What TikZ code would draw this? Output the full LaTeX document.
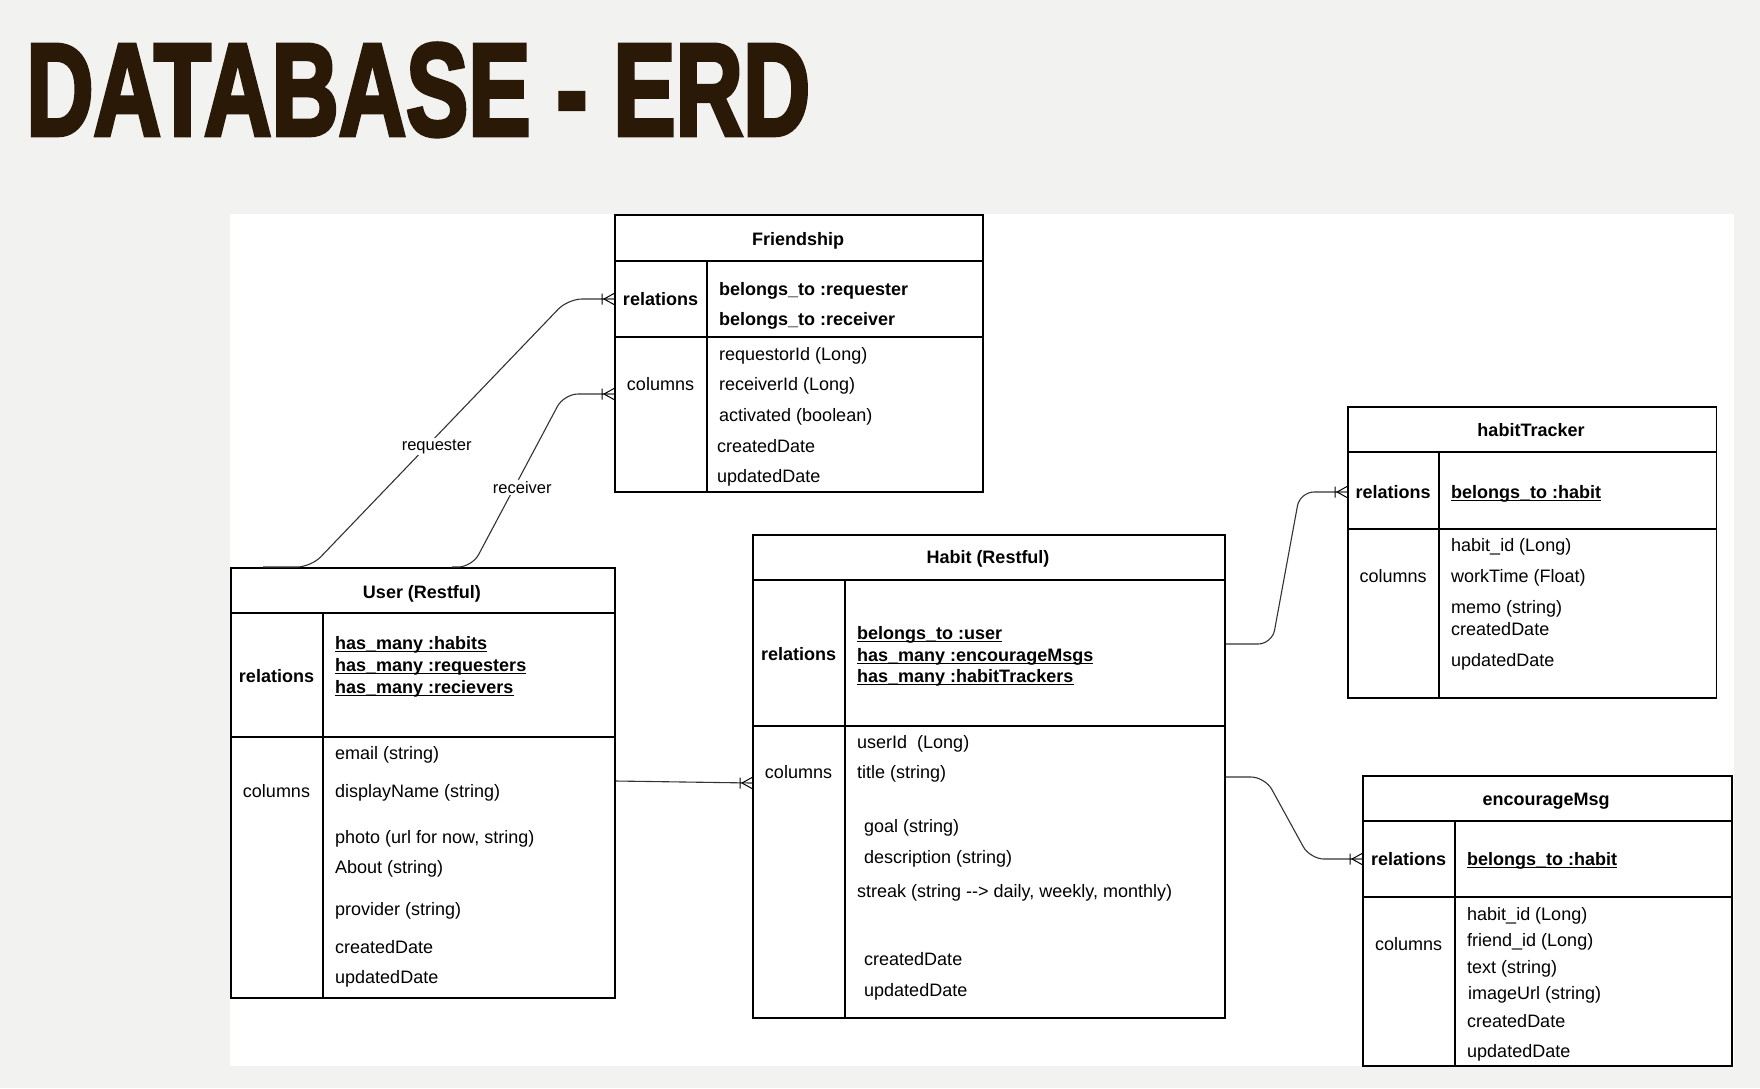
\documentclass[tikz,border=0pt]{standalone}
\usepackage{fontspec}
\setmainfont{Liberation Sans}
\newfontfamily\titlefont{Liberation Sans Bold}[FakeBold=3.5]
\definecolor{titlebrown}{HTML}{2A1906}
\definecolor{pagegrey}{HTML}{F2F2F0}
\definecolor{linkgrey}{HTML}{333333}
\newcommand\cellfont{\fontsize{18}{22}\selectfont}
\tikzset{
  tbl/.style={draw, line width=1.5pt, anchor=north west, inner sep=0pt},
  grid/.style={line width=1.5pt},
  cell/.style={anchor=west, inner sep=0pt, text height=13pt, text depth=4pt, yshift=-1.5pt, font=\cellfont},
  bold/.style={cell, font=\cellfont\bfseries},
  key/.style={cell, anchor=center},
  hd/.style={key, font=\cellfont\bfseries},
  link/.style={draw=linkgrey, line width=1.1pt, rounded corners=14pt},
  lbl/.style={fill=white, inner sep=1.5pt, font=\fontsize{16.5}{20}\selectfont},
  crow/.pic={\draw[line width=1pt] (-12,-5.5) -- (-12,5.5) (0,-5.5) -- (-10,0) -- (0,5.5);}
}
\begin{document}
\begin{tikzpicture}[x=1pt, y=-1pt]
  \useasboundingbox (0,0) rectangle (1760,1088);
  \fill[pagegrey] (0,0) rectangle (1760,1088);
  \fill[white] (230,214) rectangle (1734,1066);
  \node[anchor=base west, inner sep=0pt, text=titlebrown] (title) at (26,135) {\scalebox{0.712}[1]{\titlefont\fontsize{131}{131}\selectfont DATABASE - ERD}};

  \node[tbl, minimum width=368pt, minimum height=277pt] (fr) at (614,214) {};
  \draw[grid] (614,261) -- (982,261) (614,337) -- (982,337) (707,261) -- (707,491);
  \node[hd] (frHead) at (798,239) {Friendship};
  \node[hd] (frRel) at (660.5,299) {relations};
  \node[key] (frCol) at (660.5,384) {columns};
  \node[bold] (frR1) at (719,289) {belongs\_to :requester};
  \node[bold] (frR2) at (719,319) {belongs\_to :receiver};
  \foreach \x/\y/\t [count=\i] in {719/354/requestorId (Long), 719/384/receiverId (Long), 719/415/activated (boolean), 717/446/createdDate, 717/476/updatedDate}
    \node[cell] (frC\i) at (\x,\y) {\t};

  \node[tbl, minimum width=384pt, minimum height=430pt] (us) at (230,567) {};
  \draw[grid] (230,613) -- (614,613) (230,737) -- (614,737) (323,613) -- (323,997);
  \node[hd] (usHead) at (422,592) {User (Restful)};
  \node[hd] (usRel) at (276.5,676) {relations};
  \node[key] (usCol) at (276.5,791) {columns};
  \node[bold] (usR1) at (335,643) {has\_many :habits};
  \node[bold] (usR2) at (335,665) {has\_many :requesters};
  \node[bold] (usR3) at (335,687) {has\_many :recievers};
  \foreach \y/\t [count=\i] in {753/email (string), 791/displayName (string), 837/{photo (url for now, string)}, 867/About (string), 909/provider (string), 947/createdDate, 977/updatedDate}
    \node[cell] (usC\i) at (335,\y) {\t};

  \node[tbl, minimum width=472pt, minimum height=483pt] (hb) at (752,534) {};
  \draw[grid] (752,580) -- (1224,580) (752,726) -- (1224,726) (845,580) -- (845,1017);
  \node[hd] (hbHead) at (988,557) {Habit (Restful)};
  \node[hd] (hbRel) at (798.5,654) {relations};
  \node[key] (hbCol) at (798.5,772) {columns};
  \node[bold] (hbR1) at (857,633) {belongs\_to :user};
  \node[bold] (hbR2) at (857,655) {has\_many :encourageMsgs};
  \node[bold] (hbR3) at (857,676) {has\_many :habitTrackers};
  \foreach \x/\y/\t [count=\i] in {857/742/userId\ \ (Long), 857/772/title (string), 864/826/goal (string), 864/857/description (string), 857/891/{streak (string -{}-> daily, weekly, monthly)}, 864/959/createdDate, 864/990/updatedDate}
    \node[cell] (hbC\i) at (\x,\y) {\t};

  \node[tbl, minimum width=368.5pt, minimum height=291pt] (ht) at (1347,406) {};
  \draw[grid] (1347,452) -- (1715.5,452) (1347,529) -- (1715.5,529) (1439,452) -- (1439,697);
  \node[hd] (htHead) at (1531,430) {habitTracker};
  \node[hd] (htRel) at (1393,492) {relations};
  \node[key] (htCol) at (1393,576) {columns};
  \node[bold] (htR1) at (1451,492) {belongs\_to :habit};
  \foreach \y/\t [count=\i] in {545/habit\_id (Long), 576/workTime (Float), 607/memo (string), 629/createdDate, 660/updatedDate}
    \node[cell] (htC\i) at (1451,\y) {\t};

  \node[tbl, minimum width=369pt, minimum height=290pt] (em) at (1362,775) {};
  \draw[grid] (1362,821) -- (1731,821) (1362,897) -- (1731,897) (1455,821) -- (1455,1065);
  \node[hd] (emHead) at (1546,799) {encourageMsg};
  \node[hd] (emRel) at (1408.5,859) {relations};
  \node[key] (emCol) at (1408.5,944) {columns};
  \node[bold] (emR1) at (1467,859) {belongs\_to :habit};
  \foreach \x/\y/\t [count=\i] in {1467/914/habit\_id (Long), 1467/940/friend\_id (Long), 1467/967/text (string), 1468/993/imageUrl (string), 1467/1021/createdDate, 1467/1051/updatedDate}
    \node[cell] (emC\i) at (\x,\y) {\t};

  \foreach \n in {usR1,usR2,usR3,hbR1,hbR2,hbR3,htR1,emR1}
    \draw[line width=1.2pt] ([yshift=-2.5pt]\n.base west) -- ([yshift=-2.5pt]\n.base east);

  \coordinate (reqStart) at (263,567);
  \draw[link] (reqStart) -- (311,567) -- node[lbl, pos=0.45, xshift=10pt] (reqLbl) {requester} (568,299) -- (fr.west |- 0,299);
  \pic at (fr.west |- 0,299) {crow};

  \coordinate (rcvStart) at (452,567);
  \coordinate (rcvEnd) at (fr.west |- 0,394);
  \draw[link] (rcvStart) -- (472,567) -- node[lbl, pos=0.46, xshift=8pt] (rcvLbl) {receiver} (564,394) -- (rcvEnd);
  \pic at (rcvEnd) {crow};

  \coordinate (usOut) at (us.east |- 0,781);
  \coordinate (hbIn) at (hb.west |- 0,783);
  \draw[link] (usOut) -- (hbIn);
  \pic at (hbIn) {crow};

  \coordinate (hbOut1) at (hb.east |- 0,644);
  \draw[link] (hbOut1) -- (1272,644) -- (1300,492) -- (ht.west |- 0,492);
  \pic at (ht.west |- 0,492) {crow};

  \coordinate (hbOut2) at (hb.east |- 0,777);
  \draw[link] (hbOut2) -- (1265,777) -- (1310,859) -- (em.west |- 0,859);
  \pic at (em.west |- 0,859) {crow};
\end{tikzpicture}
\end{document}
